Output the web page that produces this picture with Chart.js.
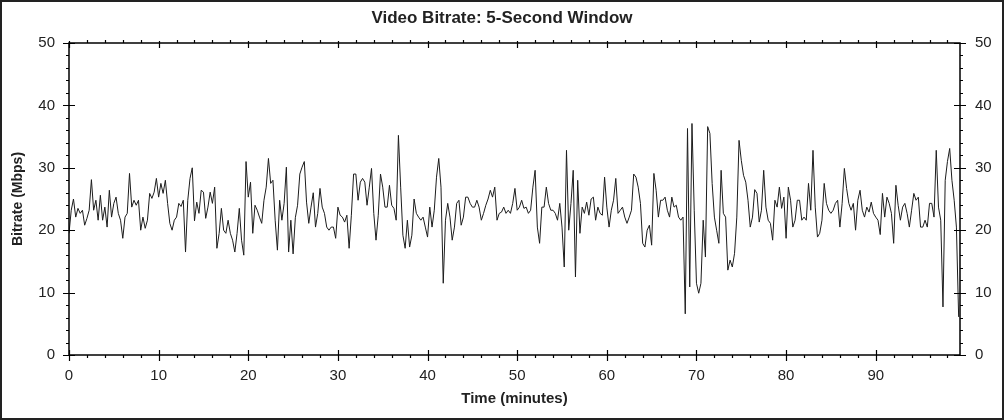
<!DOCTYPE html>
<html>
<head>
<meta charset="utf-8">
<script src="https://cdn.jsdelivr.net/npm/chart.js@4.4.1/dist/chart.umd.min.js"></script>
<style>
  html, body { margin: 0; padding: 0; background: #fff; }
  #wrap { position: relative; width: 1004px; height: 420px; }
  #frame { position: absolute; left: 0; top: 0; width: 1004px; height: 420px; box-sizing: border-box; border: 2px solid #222; pointer-events: none; }
</style>
</head>
<body>
<div id="wrap">
  <canvas id="c" width="1004" height="420"></canvas>
  <div id="frame"></div>
</div>
<script>
// ---- data ----
const TITLE = 'Video Bitrate: 5-Second Window';
const X_TITLE = 'Time (minutes)';
const Y_TITLE = 'Bitrate (Mbps)';
const TIME_STEP_MIN = 0.25;          // sampling interval of the series, minutes
const X_MAX = 99.4;
const Y_MAX = 50;
const xTickValues = [0, 10, 20, 30, 40, 50, 60, 70, 80, 90];
const yTickValues = [0, 10, 20, 30, 40, 50];
const bitrateMbps = [
  19.5, 23.2, 25.0, 22.1, 23.5, 22.7, 23.2, 20.8, 21.9, 23.2, 28.1, 23.2, 24.8, 21.6, 25.6, 21.6, 23.7, 20.5, 26.4, 22.1,
  24.3, 25.3, 22.7, 21.6, 18.7, 22.1, 22.7, 29.1, 23.7, 24.8, 24.0, 24.8, 20.0, 22.1, 20.3, 21.6, 25.9, 25.1, 26.1, 28.3,
  25.3, 27.5, 25.9, 28.0, 24.3, 21.1, 20.0, 21.6, 22.1, 24.3, 23.8, 24.8, 16.5, 24.8, 28.3, 30.0, 21.5, 24.5, 22.7, 26.4,
  26.1, 21.9, 23.7, 26.1, 24.3, 26.9, 17.1, 19.5, 23.5, 20.0, 19.5, 21.6, 19.5, 18.4, 16.5, 19.5, 23.5, 18.4, 16.0, 31.0,
  25.3, 27.7, 19.5, 24.0, 23.2, 22.1, 21.1, 24.8, 26.9, 31.5, 27.5, 28.0, 21.6, 16.8, 24.8, 21.6, 24.3, 30.1, 16.5, 21.6,
  16.2, 22.0, 24.0, 29.0, 30.1, 31.0, 24.5, 21.1, 23.7, 26.0, 20.5, 22.7, 26.7, 23.7, 22.7, 20.5, 20.0, 20.5, 20.5, 18.7,
  23.7, 22.4, 22.1, 21.3, 22.4, 17.1, 22.4, 29.0, 29.0, 24.8, 27.7, 28.3, 27.7, 24.0, 26.9, 29.9, 22.7, 18.4, 22.4, 29.0,
  26.9, 23.7, 23.7, 27.2, 24.0, 23.5, 21.6, 35.2, 26.9, 19.2, 17.1, 21.6, 17.3, 19.2, 25.0, 22.7, 22.1, 21.6, 22.1, 20.5,
  18.9, 23.7, 20.5, 23.2, 28.5, 31.5, 26.9, 11.5, 21.6, 24.3, 22.1, 18.4, 20.5, 24.3, 24.8, 20.8, 22.1, 25.3, 25.3, 24.3,
  23.7, 23.7, 24.8, 23.7, 21.6, 22.7, 24.0, 25.0, 26.4, 25.3, 26.9, 21.6, 22.7, 22.9, 23.7, 22.7, 23.2, 22.7, 24.3, 26.7,
  23.2, 23.7, 24.8, 23.5, 23.7, 22.7, 23.2, 26.9, 29.6, 20.5, 17.9, 23.7, 23.7, 26.9, 24.3, 23.2, 23.2, 22.7, 21.6, 24.3,
  20.5, 14.1, 32.8, 20.0, 24.3, 29.6, 12.5, 28.0, 19.5, 23.7, 22.7, 24.5, 22.4, 25.0, 25.3, 21.6, 23.7, 22.7, 22.4, 28.5,
  23.7, 20.5, 23.2, 24.8, 28.3, 22.7, 23.2, 23.7, 22.1, 21.1, 22.1, 23.2, 29.0, 28.5, 26.9, 24.3, 17.9, 17.3, 20.0, 20.8,
  17.6, 29.1, 26.4, 22.1, 24.8, 24.8, 25.3, 23.2, 22.1, 25.3, 23.7, 24.0, 22.1, 21.6, 22.1, 6.6, 36.3, 10.9, 37.1, 23.2,
  11.5, 9.9, 11.5, 21.6, 15.7, 36.6, 35.5, 27.5, 22.1, 20.0, 17.9, 29.6, 22.7, 22.1, 13.6, 15.2, 14.1, 16.3, 22.1, 34.4,
  31.2, 28.8, 27.7, 24.8, 20.5, 22.1, 26.5, 25.9, 21.3, 23.2, 29.6, 23.7, 21.6, 21.1, 18.4, 24.8, 23.7, 26.9, 23.5, 25.3,
  18.7, 26.9, 24.8, 20.5, 21.6, 24.8, 24.8, 21.6, 22.1, 21.6, 27.5, 23.2, 32.8, 23.7, 18.9, 19.5, 21.6, 27.5, 24.3, 23.2,
  22.7, 23.2, 24.3, 24.8, 20.5, 24.3, 29.9, 26.7, 24.3, 23.2, 24.3, 20.0, 24.8, 26.4, 23.2, 22.1, 23.7, 22.9, 24.5, 22.7,
  22.1, 21.6, 19.3, 25.9, 22.1, 25.3, 24.3, 22.7, 17.9, 27.2, 24.0, 21.6, 23.7, 24.3, 22.7, 20.5, 23.2, 25.9, 24.8, 25.3,
  20.5, 20.5, 21.6, 20.5, 24.3, 24.3, 22.1, 32.8, 23.7, 21.6, 7.7, 28.0, 31.0, 33.1, 28.0, 24.8, 20.5, 6.1
];

// ---- build points ----
const points = bitrateMbps.map((v, i) => ({ x: i * TIME_STEP_MIN, y: v }));

const FONT = '"Liberation Sans", Arial, sans-serif';
const TEXT = '#222';

// frame + tick marks plugin (uses scales for positions)
const frameTicks = {
  id: 'frameTicks',
  afterDatasetsDraw(chart) {
    const { ctx, chartArea: a, scales } = chart;
    const xs = scales.x, ys = scales.y;
    ctx.save();
    ctx.strokeStyle = '#000';
    ctx.lineWidth = 1.5;
    ctx.strokeRect(a.left, a.top, a.right - a.left, a.bottom - a.top);
    ctx.lineWidth = 1.2;
    ctx.beginPath();
    for (let v = 0; v <= X_MAX; v += 2) {
      const p = Math.round(xs.getPixelForValue(v)) + 0.5;
      const major = v % 10 === 0;
      if (major) {
        ctx.moveTo(p, a.bottom - 5); ctx.lineTo(p, a.bottom + 6);
        ctx.moveTo(p, a.top - 2); ctx.lineTo(p, a.top + 5);
      } else {
        ctx.moveTo(p, a.bottom); ctx.lineTo(p, a.bottom + 3);
        ctx.moveTo(p, a.top - 3); ctx.lineTo(p, a.top);
      }
    }
    for (let v = 0; v <= Y_MAX; v += 2) {
      const p = Math.round(ys.getPixelForValue(v)) + 0.5;
      const major = v % 10 === 0;
      if (major) {
        ctx.moveTo(a.left - 6, p); ctx.lineTo(a.left + 6, p);
        ctx.moveTo(a.right - 6, p); ctx.lineTo(a.right + 6, p);
      } else {
        ctx.moveTo(a.left - 3, p); ctx.lineTo(a.left, p);
        ctx.moveTo(a.right, p); ctx.lineTo(a.right + 3, p);
      }
    }
    ctx.stroke();
    ctx.restore();
  }
};

new Chart(document.getElementById('c'), {
  type: 'line',
  data: {
    datasets: [{
      data: points,
      borderColor: '#1c1c1c',
      borderWidth: 1,
      pointRadius: 0,
      tension: 0,
      fill: false
    }]
  },
  options: {
    responsive: false,
    animation: false,
    events: [],
    layout: { padding: 0 },
    plugins: {
      legend: { display: false },
      tooltip: { enabled: false },
      title: {
        display: true,
        text: TITLE,
        color: TEXT,
        font: { family: FONT, size: 17, weight: 'bold', lineHeight: 1.2 },
        padding: { top: 8, bottom: 14.6 }
      }
    },
    scales: {
      x: {
        type: 'linear',
        min: 0,
        max: X_MAX,
        afterFit(s) { s.height = 65; },
        afterBuildTicks(s) { s.ticks = xTickValues.map(v => ({ value: v })); },
        grid: { display: false, drawTicks: false },
        border: { display: false },
        ticks: { color: TEXT, font: { family: FONT, size: 15 }, padding: 12, maxRotation: 0 },
        title: { display: true, text: X_TITLE, color: TEXT, font: { family: FONT, size: 15, weight: 'bold', lineHeight: 1.2 }, padding: { top: 0, bottom: 12 } }
      },
      y: {
        type: 'linear',
        position: 'left',
        min: 0,
        max: Y_MAX,
        afterFit(s) { s.width = 69; },
        afterBuildTicks(s) { s.ticks = yTickValues.map(v => ({ value: v })); },
        grid: { display: false, drawTicks: false },
        border: { display: false },
        ticks: { color: TEXT, font: { family: FONT, size: 15 }, padding: 14 },
        title: { display: true, text: Y_TITLE, color: TEXT, font: { family: FONT, size: 14, weight: 'bold', lineHeight: 1.2 }, padding: { top: 10, bottom: 0 } }
      },
      y2: {
        type: 'linear',
        position: 'right',
        min: 0,
        max: Y_MAX,
        afterFit(s) { s.width = 44; },
        afterBuildTicks(s) { s.ticks = yTickValues.map(v => ({ value: v })); },
        grid: { display: false, drawTicks: false },
        border: { display: false },
        ticks: { color: TEXT, font: { family: FONT, size: 15 }, padding: 15 }
      }
    }
  },
  plugins: [frameTicks]
});
</script>
</body>
</html>
